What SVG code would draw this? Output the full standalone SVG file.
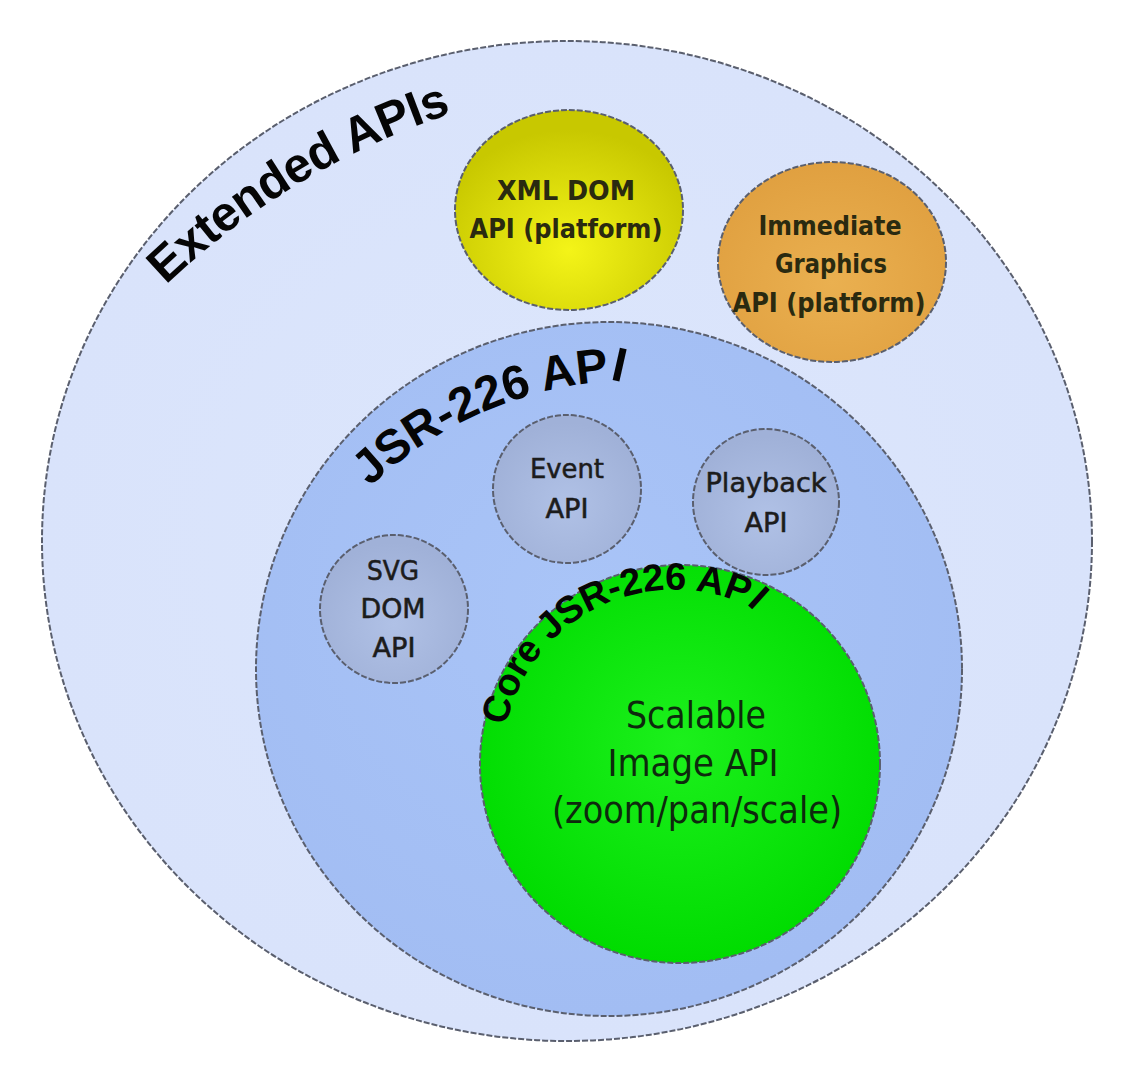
<svg xmlns="http://www.w3.org/2000/svg" width="1127" height="1080" viewBox="0 0 1127 1080">
<style>
.ring{stroke:#5a5f6e;stroke-width:2;stroke-dasharray:6 2}
.arch{font-family:"Liberation Sans",Arial,sans-serif;font-weight:bold;fill:#050505}
.lbl{font-family:"DejaVu Sans Condensed","DejaVu Sans",sans-serif;fill:#1c1c1c;text-anchor:middle}
.sm{font-size:26px;stroke:#1c1c1c;stroke-width:0.5}
.pl{font-size:27px;font-weight:bold;fill:#2a2a10}
.core{font-size:38px;fill:#0d2a0d}
</style>
<defs>
<radialGradient id="gOuter" cx="50%" cy="50%" r="50%">
<stop offset="0" stop-color="#dce6fc"/>
<stop offset="1" stop-color="#d9e3fb"/>
</radialGradient>
<radialGradient id="gJsr" cx="45%" cy="40%" r="60%">
<stop offset="0" stop-color="#a9c4f7"/>
<stop offset="1" stop-color="#a2bdf3"/>
</radialGradient>
<radialGradient id="gGreen" cx="50%" cy="45%" r="55%">
<stop offset="0" stop-color="#1cf01c"/>
<stop offset="1" stop-color="#00dc00"/>
</radialGradient>
<radialGradient id="gYellow" cx="50%" cy="70%" r="60%">
<stop offset="0" stop-color="#f4f418"/>
<stop offset="1" stop-color="#c8c800"/>
</radialGradient>
<radialGradient id="gOrange" cx="50%" cy="60%" r="60%">
<stop offset="0" stop-color="#eab050"/>
<stop offset="1" stop-color="#e0a040"/>
</radialGradient>
<radialGradient id="gSmall" cx="50%" cy="60%" r="55%">
<stop offset="0" stop-color="#b0c1e6"/>
<stop offset="1" stop-color="#a0b1d8"/>
</radialGradient>
<path id="pExt" d="M 166 285 A 760 760 0 0 1 456 112"/>
<path id="pJsr" d="M 370 487 A 390 390 0 0 1 636 380"/>
<path id="pCore" d="M 506 726 A 172 172 0 0 1 785 630"/>
</defs>

<g id="extended-apis">
<ellipse cx="567" cy="541" rx="525" ry="500" fill="url(#gOuter)" class="ring"/>
<text class="arch" font-size="49"><textPath href="#pExt" textLength="336" lengthAdjust="spacing">Extended APIs</textPath></text>
</g>

<g id="xml-dom-api">
<ellipse cx="569" cy="210" rx="114" ry="100" fill="url(#gYellow)" class="ring"/>
<text class="lbl pl"><tspan x="566" y="200" textLength="138" lengthAdjust="spacingAndGlyphs">XML DOM</tspan><tspan x="566" y="238" textLength="193" lengthAdjust="spacingAndGlyphs">API (platform)</tspan></text>
</g>

<g id="immediate-graphics-api">
<ellipse cx="832" cy="262" rx="114" ry="100" fill="url(#gOrange)" class="ring"/>
<text class="lbl pl"><tspan x="830" y="235" textLength="143" lengthAdjust="spacingAndGlyphs">Immediate</tspan><tspan x="831" y="273" textLength="112" lengthAdjust="spacingAndGlyphs">Graphics</tspan><tspan x="829" y="312" textLength="193" lengthAdjust="spacingAndGlyphs">API (platform)</tspan></text>
</g>

<g id="jsr-226-api">
<ellipse cx="609" cy="669" rx="353" ry="347" fill="url(#gJsr)" class="ring"/>
<text class="arch" font-size="48"><textPath href="#pJsr" textLength="280" lengthAdjust="spacing">JSR-226 AP<tspan rotate="16">I</tspan></textPath></text>
</g>

<g id="event-api">
<circle cx="567" cy="489" r="74" fill="url(#gSmall)" class="ring" stroke-width="1.6"/>
<text class="lbl sm"><tspan x="567" y="478" textLength="74" lengthAdjust="spacingAndGlyphs">Event</tspan><tspan x="567" y="518" textLength="43" lengthAdjust="spacingAndGlyphs">API</tspan></text>
</g>

<g id="playback-api">
<circle cx="766" cy="502" r="73" fill="url(#gSmall)" class="ring" stroke-width="1.6"/>
<text class="lbl sm"><tspan x="766" y="492" textLength="121" lengthAdjust="spacingAndGlyphs">Playback</tspan><tspan x="766" y="532" textLength="43" lengthAdjust="spacingAndGlyphs">API</tspan></text>
</g>

<g id="svg-dom-api">
<circle cx="394" cy="609" r="74" fill="url(#gSmall)" class="ring" stroke-width="1.6"/>
<text class="lbl sm"><tspan x="393" y="580" textLength="52" lengthAdjust="spacingAndGlyphs">SVG</tspan><tspan x="393" y="618" textLength="65" lengthAdjust="spacingAndGlyphs">DOM</tspan><tspan x="394" y="657" textLength="43" lengthAdjust="spacingAndGlyphs">API</tspan></text>
</g>

<g id="core-jsr-226-api">
<ellipse cx="680" cy="764" rx="200" ry="199" fill="url(#gGreen)" class="ring"/>
<text class="arch" font-size="38"><textPath href="#pCore" textLength="318" lengthAdjust="spacing">Core JSR-226 AP<tspan rotate="16">I</tspan></textPath></text>
<text class="lbl core"><tspan x="696" y="728" textLength="140" lengthAdjust="spacingAndGlyphs">Scalable</tspan><tspan x="693" y="776" textLength="171" lengthAdjust="spacingAndGlyphs">Image API</tspan><tspan x="697" y="823" textLength="290" lengthAdjust="spacingAndGlyphs">(zoom/pan/scale)</tspan></text>
</g>
</svg>
